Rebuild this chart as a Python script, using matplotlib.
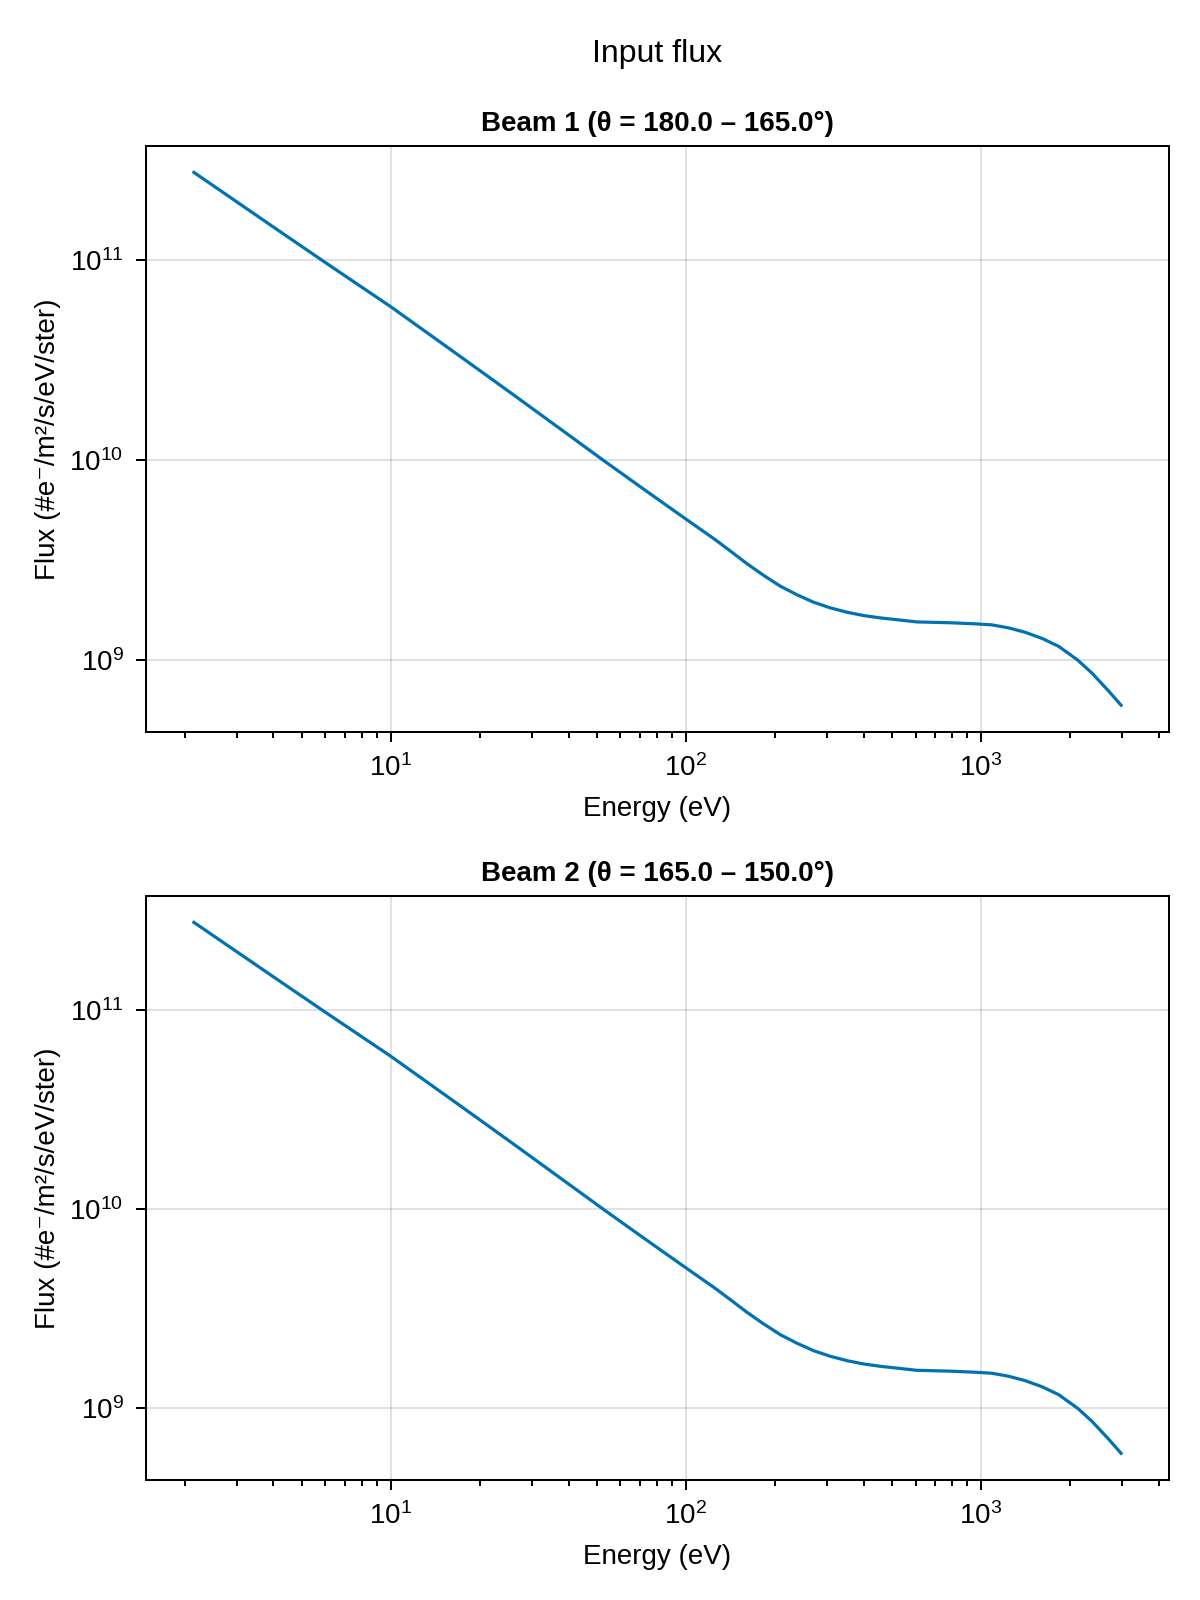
import matplotlib.pyplot as plt
from matplotlib.ticker import LogLocator, LogFormatterSciNotation, NullLocator

plt.rcParams['font.family'] = ['Liberation Sans', 'DejaVu Sans']
plt.rcParams['mathtext.fontset'] = 'custom'
plt.rcParams['mathtext.rm'] = 'Liberation Sans'
plt.rcParams['mathtext.it'] = 'Liberation Sans:italic'
plt.rcParams['mathtext.bf'] = 'Liberation Sans:bold'

# energy (eV) and flux
energy = [2.15, 4.0, 6.0, 10, 17, 26, 42.2, 52.3, 70, 95.7, 109, 124.1, 141.3, 161,
          183.3, 208.8, 237.7, 270.6, 308.3, 351.4, 400, 455, 606.5, 786.7, 956.5,
          1090, 1241, 1413, 1610, 1833, 2125, 2377, 2707, 2984]
flux_beam1 = [2.74e11, 1.46e11, 9.7e10, 5.83e10, 3.33e10, 2.12e10, 1.26e10, 1.0e10, 7.35e9,
              5.30e9, 4.63e9, 4.05e9, 3.51e9, 3.03e9,
              2.65e9, 2.34e9, 2.12e9, 1.945e9, 1.823e9, 1.733e9, 1.668e9, 1.624e9,
              1.55e9, 1.535e9, 1.516e9,
              1.498e9, 1.447e9, 1.375e9, 1.282e9, 1.17e9, 1.0e9, 8.6e8, 7.0e8, 5.94e8]
flux_beam2 = list(flux_beam1)

titles = ['Beam 1 (θ = 180.0 – 165.0°)', 'Beam 2 (θ = 165.0 – 150.0°)']
fluxes = [flux_beam1, flux_beam2]

fig = plt.figure(figsize=(12, 16), dpi=100)
boxes = [[0.1217, 0.5425, 0.8523, 0.3663], [0.1217, 0.075, 0.8523, 0.365]]

fig.text(657 / 1200, 1 - 54 / 1600, 'Input flux', ha='center', va='center', fontsize=23)

for box, title, flux in zip(boxes, titles, fluxes):
    ax = fig.add_axes(box)
    ax.plot(energy, flux, color='#0072B2', lw=2.3)
    ax.set_xscale('log')
    ax.set_yscale('log')
    ax.set_xlim(1.48, 4330)
    ax.set_ylim(10 ** 8.64, 10 ** 11.57)

    ax.xaxis.set_major_locator(LogLocator(base=10, numticks=10))
    ax.xaxis.set_minor_locator(LogLocator(base=10, subs=range(2, 10), numticks=20))
    ax.xaxis.set_major_formatter(LogFormatterSciNotation())
    ax.yaxis.set_major_locator(LogLocator(base=10, numticks=10))
    ax.yaxis.set_minor_locator(NullLocator())

    ax.grid(True, which='major', color='black', alpha=0.12, lw=1.4)
    for s in ax.spines.values():
        s.set_linewidth(1.45)
    ax.tick_params(which='major', direction='out', length=7.2, width=1.45, labelsize=20)
    ax.tick_params(which='minor', direction='out', length=4.3, width=1.45)
    ax.tick_params(axis='x', pad=9)
    ax.tick_params(axis='y', pad=9)

    ax.set_title(title, fontsize=20, fontweight='bold', pad=11)
    ax.set_xlabel('Energy (eV)', fontsize=20, labelpad=10)
    ax.set_ylabel('Flux (#e⁻/m²/s/eV/ster)', fontsize=20, labelpad=6)

fig.savefig('out.png', dpi=100)
